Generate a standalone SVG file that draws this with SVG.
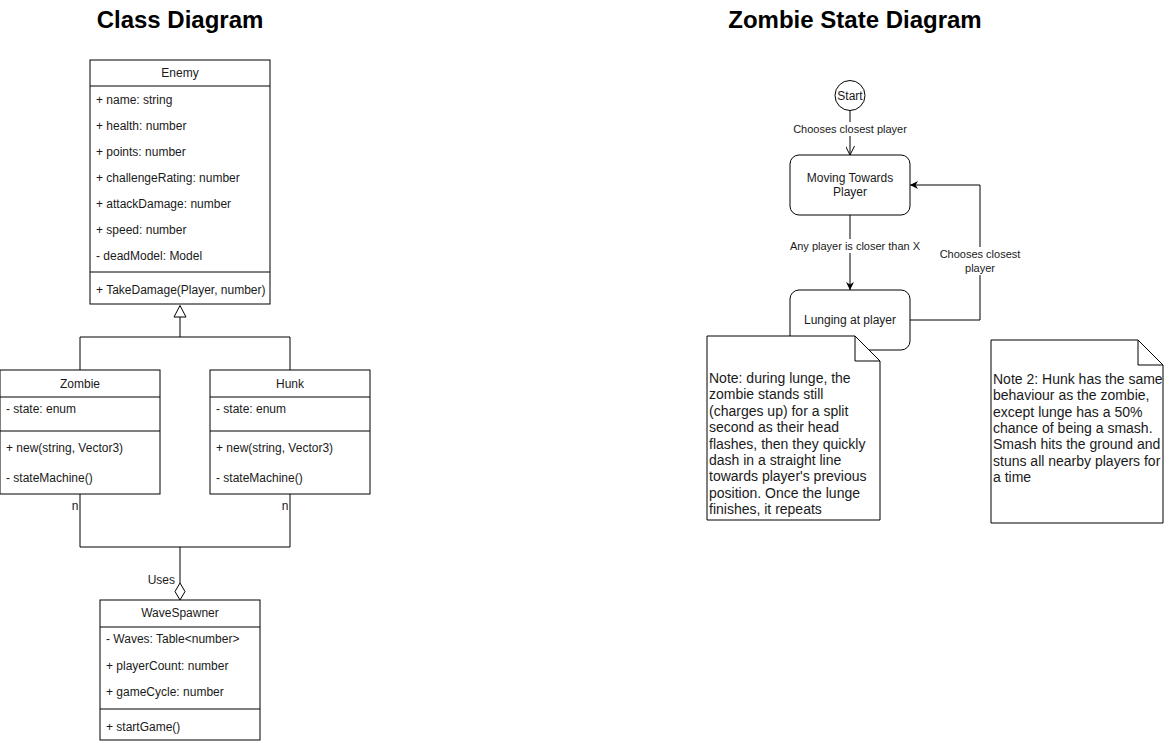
<svg xmlns="http://www.w3.org/2000/svg" width="1164" height="741" viewBox="0 0 1164 741">
<style>
text{font-family:"Liberation Sans",Arial,sans-serif;fill:#1a1a1a}
.t{font-size:24px;font-weight:bold;text-anchor:middle;fill:#000}
.c{font-size:12px}
.m{text-anchor:middle}
.l{font-size:11px;text-anchor:middle}
.n{font-size:14px}
.box{fill:#fff;stroke:#000;stroke-width:1}
.ln{fill:none;stroke:#000;stroke-width:1}
</style>
<defs>
<marker id="fill" viewBox="0 0 10 10" refX="10" refY="5" markerWidth="8" markerHeight="8" markerUnits="userSpaceOnUse" orient="auto">
<path d="M0,0 L10,5 L0,10 L3,5 Z" fill="#000"/>
</marker>
<marker id="open" viewBox="0 0 10 10" refX="10" refY="5" markerWidth="9" markerHeight="9" markerUnits="userSpaceOnUse" orient="auto">
<path d="M0,0 L10,5 L0,10" fill="none" stroke="#000" stroke-width="1.1"/>
</marker>
</defs>
<rect width="1164" height="741" fill="#fff"/>
<text class="t" x="180" y="28">Class Diagram</text>
<text class="t" x="855" y="28">Zombie State Diagram</text>

<g id="connectors">
<path class="ln" d="M180,317 V337 M80,370 V337 H290 V370"/>
<path d="M180,305.5 L186,317 L174,317 Z" fill="#fff" stroke="#000"/>
<path class="ln" d="M80,494 V547 H290 V494 M180,547 V583"/>
<path d="M180,583 L185,591.5 L180,600 L175,591.5 Z" fill="#fff" stroke="#000"/>
<text class="c" x="75" y="510" text-anchor="middle">n</text>
<text class="c" x="285" y="510" text-anchor="middle">n</text>
<text class="c" x="175" y="584" text-anchor="end">Uses</text>

<path class="ln" d="M850,110 V155" marker-end="url(#open)"/>
<rect x="794" y="122" width="112" height="14" fill="#fff"/>
<text class="l" x="850" y="133">Chooses closest player</text>
<path class="ln" d="M850,215 V290" marker-end="url(#fill)"/>
<rect x="789" y="239" width="132" height="14" fill="#fff"/>
<text class="l" x="855" y="250">Any player is closer than X</text>
<path class="ln" d="M910,320 H980 V185 H910" marker-end="url(#fill)"/>
<rect x="938" y="247" width="84" height="28" fill="#fff"/>
<text class="l" x="980" y="258">Chooses closest</text>
<text class="l" x="980" y="272">player</text>
</g>

<g id="enemy">
<rect class="box" x="90" y="60" width="180" height="244"/>
<path class="ln" d="M90,86 H270 M90,272 H270"/>
<text class="c m" x="180" y="77">Enemy</text>
<text class="c" x="96" y="104">+ name: string</text>
<text class="c" x="96" y="130">+ health: number</text>
<text class="c" x="96" y="156">+ points: number</text>
<text class="c" x="96" y="182">+ challengeRating: number</text>
<text class="c" x="96" y="208">+ attackDamage: number</text>
<text class="c" x="96" y="234">+ speed: number</text>
<text class="c" x="96" y="260">- deadModel: Model</text>
<text class="c" x="96" y="294">+ TakeDamage(Player, number)</text>
</g>

<g id="zombie">
<rect class="box" x="0" y="370" width="160" height="124"/>
<path class="ln" d="M0,397 H160 M0,431 H160"/>
<text class="c m" x="80" y="388">Zombie</text>
<text class="c" x="6" y="413">- state: enum</text>
<text class="c" x="6" y="452">+ new(string, Vector3)</text>
<text class="c" x="6" y="482">- stateMachine()</text>
</g>

<g id="hunk">
<rect class="box" x="210" y="370" width="160" height="124"/>
<path class="ln" d="M210,397 H370 M210,431 H370"/>
<text class="c m" x="290" y="388">Hunk</text>
<text class="c" x="216" y="413">- state: enum</text>
<text class="c" x="216" y="452">+ new(string, Vector3)</text>
<text class="c" x="216" y="482">- stateMachine()</text>
</g>

<g id="wavespawner">
<rect class="box" x="100" y="600" width="160" height="140"/>
<path class="ln" d="M100,627 H260 M100,709 H260"/>
<text class="c m" x="180" y="617">WaveSpawner</text>
<text class="c" x="106" y="643">- Waves: Table&lt;number&gt;</text>
<text class="c" x="106" y="670">+ playerCount: number</text>
<text class="c" x="106" y="696">+ gameCycle: number</text>
<text class="c" x="106" y="731">+ startGame()</text>
</g>

<g id="start">
<circle class="box" cx="850" cy="95.5" r="15"/>
<text class="c m" x="850" y="100">Start</text>
</g>

<g id="moving">
<rect class="box" x="790" y="155" width="120" height="60" rx="9"/>
<text class="c m" x="850" y="182">Moving Towards</text>
<text class="c m" x="850" y="196">Player</text>
</g>

<g id="lunging">
<rect class="box" x="790" y="290" width="120" height="60" rx="9"/>
<text class="c m" x="850" y="324">Lunging at player</text>
</g>

<g id="note1">
<path class="box" d="M707,336 H855 L880,361 V520 H707 Z"/>
<path class="ln" d="M855,336 V361 H880"/>
<text class="n" x="709" y="383">Note: during lunge, the</text>
<text class="n" x="709" y="399.4">zombie stands still</text>
<text class="n" x="709" y="415.8">(charges up) for a split</text>
<text class="n" x="709" y="432.2">second as their head</text>
<text class="n" x="709" y="448.6">flashes, then they quickly</text>
<text class="n" x="709" y="465">dash in a straight line</text>
<text class="n" x="709" y="481.4">towards player's previous</text>
<text class="n" x="709" y="497.8">position. Once the lunge</text>
<text class="n" x="709" y="514.2">finishes, it repeats</text>
</g>

<g id="note2">
<path class="box" d="M991,340 H1138 L1163,365 V523 H991 Z"/>
<path class="ln" d="M1138,340 V365 H1163"/>
<text class="n" x="993" y="384">Note 2: Hunk has the same</text>
<text class="n" x="993" y="400.3">behaviour as the zombie,</text>
<text class="n" x="993" y="416.6">except lunge has a 50%</text>
<text class="n" x="993" y="432.9">chance of being a smash.</text>
<text class="n" x="993" y="449.2">Smash hits the ground and</text>
<text class="n" x="993" y="465.5">stuns all nearby players for</text>
<text class="n" x="993" y="481.8">a time</text>
</g>
</svg>
